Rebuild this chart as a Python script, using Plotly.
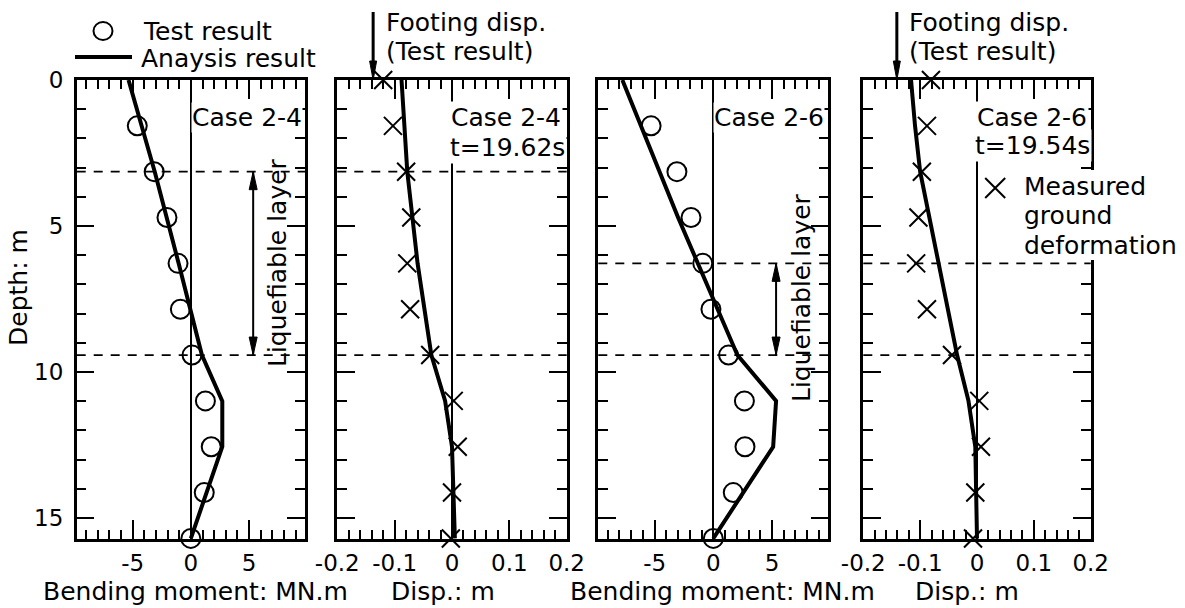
import plotly.graph_objects as go

# ---------------- data ----------------
depth_test = [1.57, 3.14, 4.71, 6.28, 7.85, 9.42, 10.99, 12.56, 14.13, 15.70]
depth_meas = [0.0, 1.57, 3.14, 4.71, 6.28, 7.85, 9.42, 10.99, 12.56, 14.13, 15.70]

# Case 2-4, bending moment (MN.m)
bm24_test = [-4.6, -3.15, -2.05, -1.1, -0.9, 0.1, 1.25, 1.75, 1.15, 0.0]
bm24_an_depth = [0.0, 3.14, 6.28, 9.42, 11.0, 12.56, 15.70]
bm24_an = [-5.35, -3.1, -1.05, 0.95, 2.7, 2.7, 0.0]

# Case 2-4, displacement (m)
disp24_meas = [-0.12, -0.103, -0.08, -0.071, -0.078, -0.073, -0.038, 0.003, 0.01, 0.0, -0.002]
disp24_an_depth = [0.0, 3.14, 6.28, 9.42, 10.99, 12.56, 15.70]
disp24_an = [-0.088, -0.078, -0.06, -0.036, -0.012, 0.0, 0.005]
footing24 = -0.1375

# Case 2-6, bending moment (MN.m)
bm26_test = [-5.3, -3.1, -1.9, -0.9, -0.2, 1.3, 2.65, 2.7, 1.7, 0.0]
bm26_an_depth = [0.0, 4.71, 9.42, 10.99, 12.56, 15.70]
bm26_an = [-7.75, -3.0, 2.05, 5.35, 5.1, 0.0]

# Case 2-6, displacement (m)
disp26_meas = [-0.081, -0.088, -0.097, -0.103, -0.107, -0.088, -0.044, 0.004, 0.007, -0.003, -0.007]
disp26_an_depth = [0.0, 1.57, 3.14, 6.28, 9.42, 10.99, 12.56, 15.70]
disp26_an = [-0.116, -0.109, -0.1, -0.068, -0.035, -0.015, -0.003, 0.0]
footing26 = -0.141

# liquefiable layers (depth, m)
layer24 = [3.14, 9.42]
layer26 = [6.28, 9.42]
layer_arrow_x = 5.35  # MN.m position of the double arrow

bm_ticks = [-5, 0, 5]
bm_ticktext = ["-5", "0", "5"]
disp_ticks = [-0.2, -0.1, 0, 0.1, 0.2]
disp_ticktext = ["-0.2", "-0.1", "0", "0.1", "0.2"]
depth_ticks = [0, 5, 10, 15]
depth_ticktext = ["0", "5", "10", "15"]

# ---------------- layout helpers ----------------
W, H = 1185, 608
FONT = "DejaVu Sans, Liberation Sans, Arial, sans-serif"
FS = 25      # annotation text
TFS = 23     # tick labels


def fx(px):
    return px / W


def fy(py):
    return 1 - py / H


panels = [(76.7, 305.0), (337.3, 566.7), (598.3, 828.3), (863.3, 1090.7)]
ytop, ybot = 80, 539

fig = go.Figure()

line_style = dict(color="black", width=4)
circ = dict(symbol="circle-open", size=19, color="black", line=dict(width=2, color="black"))
xmark = dict(symbol="x-thin-open", size=18, color="black", line=dict(width=2, color="black"))

# panel 1
fig.add_trace(go.Scatter(x=bm24_an, y=bm24_an_depth, mode="lines", line=line_style,
                         xaxis="x", yaxis="y", showlegend=False))
fig.add_trace(go.Scatter(x=bm24_test, y=depth_test, mode="markers", marker=circ,
                         xaxis="x", yaxis="y", cliponaxis=False, showlegend=False))
# panel 2
fig.add_trace(go.Scatter(x=disp24_an, y=disp24_an_depth, mode="lines", line=line_style,
                         xaxis="x2", yaxis="y2", showlegend=False))
fig.add_trace(go.Scatter(x=disp24_meas, y=depth_meas, mode="markers", marker=xmark,
                         xaxis="x2", yaxis="y2", cliponaxis=False, showlegend=False))
# panel 3
fig.add_trace(go.Scatter(x=bm26_an, y=bm26_an_depth, mode="lines", line=line_style,
                         xaxis="x3", yaxis="y3", showlegend=False))
fig.add_trace(go.Scatter(x=bm26_test, y=depth_test, mode="markers", marker=circ,
                         xaxis="x3", yaxis="y3", cliponaxis=False, showlegend=False))
# panel 4
fig.add_trace(go.Scatter(x=disp26_an, y=disp26_an_depth, mode="lines", line=line_style,
                         xaxis="x4", yaxis="y4", showlegend=False))
fig.add_trace(go.Scatter(x=disp26_meas, y=depth_meas, mode="markers", marker=xmark,
                         xaxis="x4", yaxis="y4", cliponaxis=False, showlegend=False))
# legend key for measured ground deformation
fig.add_trace(go.Scatter(x=[0.032], y=[3.7], mode="markers",
                         marker=dict(symbol="x-thin-open", size=20, color="black",
                                     line=dict(width=2, color="black")),
                         xaxis="x4", yaxis="y4", cliponaxis=False, showlegend=False))

layout = dict(template="none", width=W, height=H, autosize=False,
              margin=dict(l=0, r=0, t=0, b=0, pad=0, autoexpand=False),
              paper_bgcolor="white", plot_bgcolor="white",
              font=dict(family=FONT, size=FS, color="black"),
              showlegend=False)

for i, (x0, x1) in enumerate(panels):
    n = "" if i == 0 else str(i + 1)
    bm = i in (0, 2)
    xa = dict(domain=[fx(x0), fx(x1)], anchor="y" + n, automargin=False,
              range=[-9.8, 9.8] if bm else [-0.2, 0.2],
              tickmode="array",
              tickvals=bm_ticks if bm else disp_ticks,
              ticktext=bm_ticktext if bm else disp_ticktext,
              ticks="inside", ticklen=19, tickwidth=2, tickcolor="black",
              showline=True, linewidth=2.5, linecolor="black", mirror="ticks",
              showgrid=False, zeroline=True, zerolinewidth=1.5, zerolinecolor="black",
              tickfont=dict(family=FONT, size=TFS, color="black"),
              ticklabelstandoff=2,
              minor=dict(dtick=1 if bm else 0.02, tick0=0, ticks="inside", ticklen=9,
                         tickwidth=2, tickcolor="black", showgrid=False))
    ya = dict(domain=[fy(ybot), fy(ytop)], anchor="x" + n, automargin=False,
              range=[15.72, 0], tickmode="array", tickvals=depth_ticks,
              ticktext=depth_ticktext, showticklabels=(i == 0),
              ticks="inside", ticklen=18, tickwidth=2, tickcolor="black",
              showline=True, linewidth=2.5, linecolor="black", mirror="ticks",
              showgrid=False, zeroline=False,
              tickfont=dict(family=FONT, size=TFS, color="black"),
              ticklabelstandoff=6,
              minor=dict(dtick=1, tick0=0, ticks="inside", ticklen=10,
                         tickwidth=2, tickcolor="black", showgrid=False))
    layout["xaxis" + n] = xa
    layout["yaxis" + n] = ya

fig.update_layout(**layout)

shapes = []
annotations = []


def ann(text, xp, yp, xanchor="left", yanchor="middle", angle=0, bg=None, pad=0):
    d = dict(text=text, x=fx(xp), y=fy(yp), xref="paper", yref="paper",
             xanchor=xanchor, yanchor=yanchor, showarrow=False, textangle=angle,
             font=dict(family=FONT, size=FS, color="black"), borderpad=pad)
    if bg:
        d["bgcolor"] = bg
    annotations.append(d)


# dashed liquefiable layer boundaries
for n, layer in (("", layer24), ("2", layer24), ("3", layer26), ("4", layer26)):
    for d in layer:
        shapes.append(dict(type="line", xref="x" + n + " domain", yref="y" + n,
                           x0=0, x1=1, y0=d, y1=d,
                           line=dict(color="black", width=1.8, dash="9px,8px")))

# double arrows for liquefiable layer
for n, layer in (("", layer24), ("3", layer26)):
    xr, yr = "x" + n, "y" + n
    shapes.append(dict(type="line", xref=xr, yref=yr, x0=layer_arrow_x, x1=layer_arrow_x,
                       y0=layer[0], y1=layer[1], line=dict(color="black", width=2)))
    shapes.append(dict(type="path", xref=xr, yref=yr, xsizemode="pixel", ysizemode="pixel",
                       xanchor=layer_arrow_x, yanchor=layer[0],
                       path="M0,0 L-4,-18 L4,-18 Z", fillcolor="black",
                       line=dict(color="black", width=1)))
    shapes.append(dict(type="path", xref=xr, yref=yr, xsizemode="pixel", ysizemode="pixel",
                       xanchor=layer_arrow_x, yanchor=layer[1],
                       path="M0,0 L-4,18 L4,18 Z", fillcolor="black",
                       line=dict(color="black", width=1)))

# footing displacement arrows
for n, fd in (("2", footing24), ("4", footing26)):
    shapes.append(dict(type="line", xref="x" + n, yref="y" + n + " domain",
                       x0=fd, x1=fd, y0=1.03, y1=1.148,
                       line=dict(color="black", width=3)))
    shapes.append(dict(type="path", xref="x" + n, yref="y" + n + " domain",
                       xsizemode="pixel", ysizemode="pixel", xanchor=fd, yanchor=1.0,
                       path="M0,0 L-3.5,19 L3.5,19 Z", fillcolor="black",
                       line=dict(color="black", width=1)))

# legend keys (top left)
shapes.append(dict(type="circle", xref="paper", yref="paper", xsizemode="pixel",
                   ysizemode="pixel", xanchor=fx(103), yanchor=fy(31),
                   x0=-9.5, x1=9.5, y0=-9, y1=9, line=dict(color="black", width=2)))
shapes.append(dict(type="line", xref="paper", yref="paper", x0=fx(75), x1=fx(132),
                   y0=fy(57), y1=fy(57), line=dict(color="black", width=4)))

# white backing behind the "Measured ground deformation" key text
shapes.append(dict(type="rect", xref="paper", yref="paper", layer="above",
                   x0=fx(1016), x1=fx(1180), y0=fy(170), y1=fy(260),
                   fillcolor="white", line=dict(width=0)))

ann("Test result", 142, 31.5)
ann("Anaysis result", 140, 59)

ann("Footing disp.", 385, 22)
ann("(Test result)", 385, 51.5)
ann("Footing disp.", 908, 22)
ann("(Test result)", 908, 51.5)

ann("Case 2-4", 303, 118, xanchor="right", bg="white")
ann("Case 2-4", 449, 118, bg="white", pad=1)
ann("t=19.62s", 448, 147.5, bg="white", pad=1)
ann("Case 2-6", 825, 118, xanchor="right", bg="white")
ann("Case 2-6", 975, 117, bg="white", pad=1)
ann("t=19.54s", 973, 146, bg="white", pad=1)

ann("Measured", 1023, 186)
ann("ground", 1023, 215.5)
ann("deformation", 1023, 245)

ann("Liquefiable layer", 277, 263, xanchor="center", angle=-90)
ann("Liquefiable layer", 802, 298, xanchor="center", angle=-90)

ann("Depth: m", 19, 288, xanchor="center", angle=-90)
ann("Bending moment: MN.m", 195.5, 591, xanchor="center")
ann("Disp.: m", 443, 591, xanchor="center")
ann("Bending moment: MN.m", 722.5, 591, xanchor="center")
ann("Disp.: m", 966.5, 591, xanchor="center")

fig.update_layout(shapes=shapes, annotations=annotations)
fig.write_html("out.html")
